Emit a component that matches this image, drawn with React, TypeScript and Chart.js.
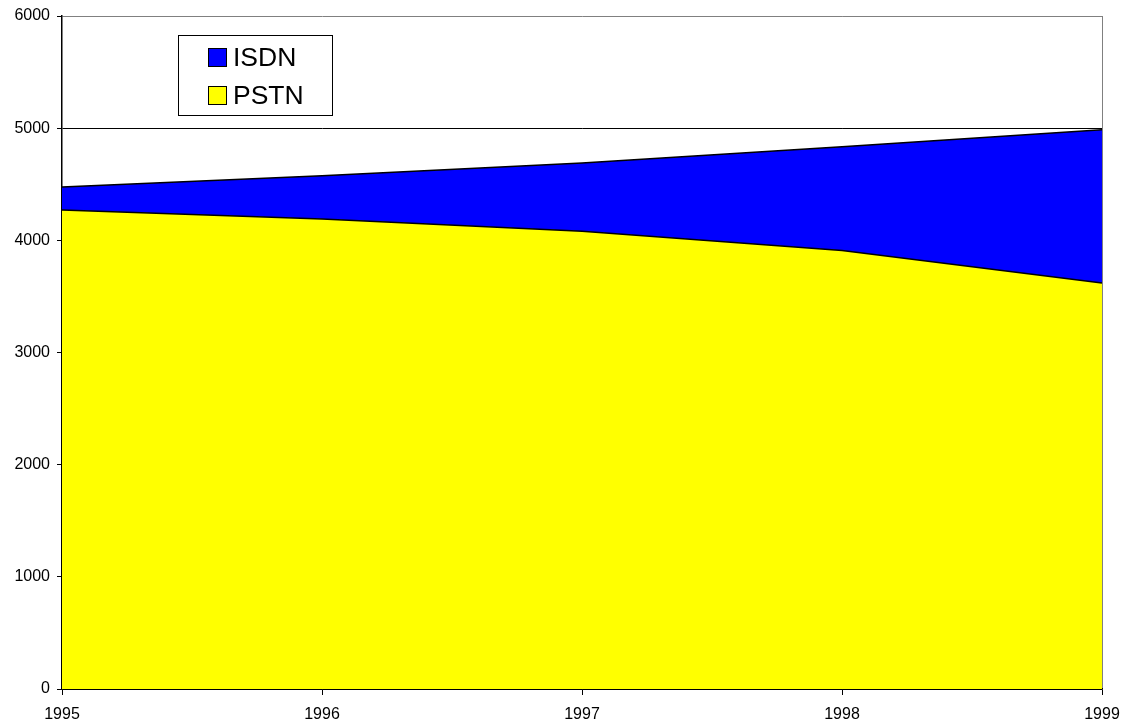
import React, { useEffect, useRef } from "react";
import { Chart, registerables } from "chart.js";

Chart.register(...registerables);

const years = ["1995", "1996", "1997", "1998", "1999"];
const pstn = [4270, 4190, 4080, 3910, 3620];
const isdn = [205, 385, 610, 925, 1365];
const yTicks = [0, 1000, 2000, 3000, 4000, 5000, 6000];

const FONT = "'Liberation Sans', Arial, sans-serif";

const legendPlugin = {
  id: "boxLegend",
  afterDraw(chart: any) {
    const ctx = chart.ctx;
    ctx.save();
    const x = 178.5, y = 35.5, w = 154, h = 80;
    ctx.fillStyle = "#ffffff";
    ctx.fillRect(x, y, w, h);
    ctx.strokeStyle = "#000000";
    ctx.lineWidth = 1;
    ctx.strokeRect(x, y, w, h);
    const items = [
      { label: chart.data.datasets[1].label, color: chart.data.datasets[1].backgroundColor, top: 48, base: 66 },
      { label: chart.data.datasets[0].label, color: chart.data.datasets[0].backgroundColor, top: 86, base: 104 },
    ];
    ctx.font = "26.5px " + FONT;
    ctx.textBaseline = "alphabetic";
    ctx.textAlign = "left";
    for (const it of items) {
      ctx.fillStyle = it.color;
      ctx.fillRect(208.5, it.top + 0.5, 18, 18);
      ctx.strokeStyle = "#000";
      ctx.strokeRect(208.5, it.top + 0.5, 18, 18);
      ctx.fillStyle = "#000";
      ctx.fillText(it.label, 233, it.base);
    }
    ctx.restore();
  },
};

export default function App() {
  const ref = useRef<HTMLCanvasElement>(null);
  useEffect(() => {
    const chart = new Chart(ref.current as HTMLCanvasElement, {
      type: "line",
      data: {
        labels: years,
        datasets: [
          {
            label: "PSTN",
            data: pstn,
            backgroundColor: "#FFFF00",
            borderColor: "#000000",
            borderWidth: 1.5,
            fill: "origin",
            pointRadius: 0,
            tension: 0,
          },
          {
            label: "ISDN",
            data: isdn,
            backgroundColor: "#0000FF",
            borderColor: "#000000",
            borderWidth: 1.5,
            fill: "-1",
            pointRadius: 0,
            tension: 0,
          },
        ],
      },
      options: {
        animation: false,
        responsive: false,
        layout: { padding: { top: 16, right: 19, left: 0, bottom: 0 } },
        plugins: { legend: { display: false }, tooltip: { enabled: false } },
        scales: {
          x: {
            offset: false,
            border: { color: "#000", width: 1.5 },
            grid: {
              color: (c: any) => (c.index === years.length - 1 ? "#808080" : "rgba(0,0,0,0)"),
              tickColor: "#000",
              tickLength: 6,
              lineWidth: 1,
            },
            ticks: {
              color: "#000",
              font: { family: FONT, size: 16 },
              maxRotation: 0,
              padding: 10,
            },
            afterFit: (s: any) => {
              s.height = 35;
              s.paddingLeft = 0;
              s.paddingRight = 0;
            },
          },
          y: {
            stacked: true,
            min: 0,
            max: 6000,
            border: { color: "#000", width: 1.5 },
            grid: {
              color: (c: any) => (c.tick && c.tick.value === 6000 ? "#808080" : "#000"),
              tickColor: "#000",
              tickLength: 5,
              lineWidth: 1,
            },
            afterBuildTicks: (s: any) => {
              s.ticks = yTicks.map((v) => ({ value: v }));
            },
            ticks: {
              color: "#000",
              font: { family: FONT, size: 16 },
              padding: 7,
              callback: (v: any) => String(v),
            },
            afterFit: (s: any) => {
              s.width = 62;
              s.paddingTop = 0;
              s.paddingBottom = 0;
            },
          },
        },
      },
      plugins: [legendPlugin],
    });
    return () => chart.destroy();
  }, []);
  return (
    <div style={{ position: "fixed", left: 0, top: 0, width: 1121, height: 724, background: "#fff" }}>
      <canvas ref={ref} width={1121} height={724} style={{ display: "block" }} />
    </div>
  );
}
